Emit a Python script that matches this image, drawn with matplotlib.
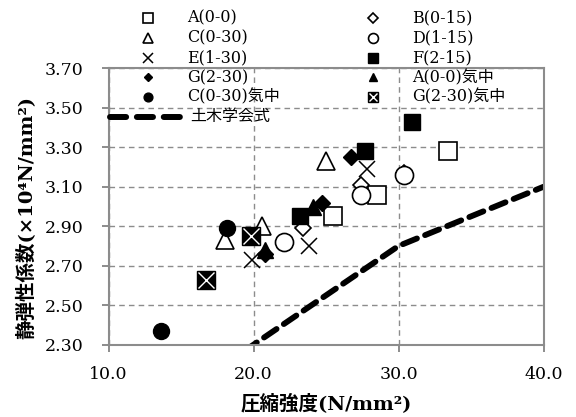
import numpy as np
import matplotlib
matplotlib.use('Agg')
import matplotlib.pyplot as plt
from matplotlib.ticker import FormatStrFormatter

# fonts: serif for latin, CJK fallback for japanese
jp_font = ['DejaVu Serif', 'Noto Sans CJK JP']
plt.rcParams['font.family'] = jp_font

# data (x: 圧縮強度, y: 静弾性係数)
A_x = [25.5, 28.5, 33.4]
A_y = [2.95, 3.06, 3.28]
B_x = [23.4, 27.4, 30.4]
B_y = [2.89, 3.11, 3.17]
C_x = [18.0, 20.6, 25.0]
C_y = [2.83, 2.90, 3.23]
D_x = [22.1, 27.4, 30.4]
D_y = [2.82, 3.06, 3.16]
E_x = [19.9, 23.8, 27.8]
E_y = [2.73, 2.80, 3.19]
F_x = [23.2, 27.7, 30.9]
F_y = [2.95, 3.28, 3.43]
G_x = [20.8, 24.7, 26.7]
G_y = [2.76, 3.02, 3.25]
A_air_x = [20.8, 24.1]
A_air_y = [2.78, 3.00]
C_air_x = [13.6, 18.2]
C_air_y = [2.37, 2.89]
G_air_x = [16.7, 19.8]
G_air_y = [2.63, 2.85]
# 土木学会式 (table values)
jsce_x = [18, 24, 30, 40]
jsce_y = [2.2, 2.5, 2.8, 3.1]

labels = ['A(0-0)', 'B(0-15)', 'C(0-30)', 'D(1-15)', 'E(1-30)', 'F(2-15)',
          'G(2-30)', 'A(0-0)気中', 'C(0-30)気中', 'G(2-30)気中']
xs = [A_x, B_x, C_x, D_x, E_x, F_x, G_x, A_air_x, C_air_x, G_air_x]
ys = [A_y, B_y, C_y, D_y, E_y, F_y, G_y, A_air_y, C_air_y, G_air_y]

# marker styles, list of layers per series
styles = [
    [dict(marker='s', mfc='white', mec='black', ms=13, mew=1.2)],
    [dict(marker='D', mfc='white', mec='black', ms=8.5, mew=1.2)],
    [dict(marker='^', mfc='white', mec='black', ms=13, mew=1.2)],
    [dict(marker='o', mfc='white', mec='black', ms=13, mew=1.2)],
    [dict(marker='x', mfc='black', mec='black', ms=12, mew=1.1)],
    [dict(marker='s', mfc='black', mec='black', ms=12, mew=1.0)],
    [dict(marker='D', mfc='black', mec='black', ms=8, mew=1.0)],
    [dict(marker='^', mfc='black', mec='black', ms=11.5, mew=1.0)],
    [dict(marker='o', mfc='black', mec='black', ms=11.5, mew=1.0)],
    [dict(marker='s', mfc='black', mec='black', ms=12.5, mew=1.0),
     dict(marker='x', mfc='white', mec='white', ms=11, mew=1.0)],
]

grey = '#8c8c8c'
W, H = 576, 417
fig = plt.figure(figsize=(W / 100, H / 100), dpi=100)
ax = fig.add_axes([108.5 / W, 1 - 344.7 / H, 435 / W, 276.4 / H])

ax.plot(jsce_x, jsce_y, color='black', lw=4.2, dashes=(2.6, 1.5),
        dash_capstyle='round', zorder=2)

for x, y, st in zip(xs, ys, styles):
    for s in st:
        ax.plot(x, y, linestyle='none', zorder=3, **s)

ax.set_xlim(10, 40)
ax.set_ylim(2.3, 3.7)
ax.set_xticks([10, 20, 30, 40])
ax.set_yticks(np.arange(2.3, 3.71, 0.2))
ax.xaxis.set_major_formatter(FormatStrFormatter('%.1f'))
ax.yaxis.set_major_formatter(FormatStrFormatter('%.2f'))
ax.grid(True, color=grey, linestyle=(0, (4, 3)), lw=1.0)
ax.set_axisbelow(True)
for sp in ax.spines.values():
    sp.set_color(grey)
    sp.set_linewidth(1.5)
ax.tick_params(direction='out', length=5, width=1.4, color=grey,
               labelsize=12.5)
ax.tick_params(axis='y', pad=13)
ax.tick_params(axis='x', pad=10)

ax.set_xlabel('圧縮強度(N/mm²)', fontsize=14, fontweight='bold')
ax.xaxis.set_label_coords(0.5, -0.18)
ax.set_ylabel('静弾性係数(×10⁴N/mm²)', fontsize=14, fontweight='bold')
ax.yaxis.set_label_coords(-0.165, 0.46)

# legend drawn by hand on a full-figure overlay (pixel coords)
leg = fig.add_axes([0, 0, 1, 1], zorder=5)
leg.set_xlim(0, W)
leg.set_ylim(H, 0)
leg.axis('off')
row0, drow = 18.3, 19.7
mark_x = [147.5, 373]
text_x = [187.5, 412]
for i, lab in enumerate(labels):
    r, c = i // 2, i % 2
    yy = row0 + drow * r
    for s in styles[i]:
        s2 = dict(s)
        s2['ms'] = s['ms'] * 0.55
        leg.plot([mark_x[c]], [yy], linestyle='none', clip_on=False, **s2)
    leg.text(text_x[c], yy, lab, fontsize=11.5, va='center', ha='left')
yy = row0 + drow * 5
leg.plot([110, 180], [yy, yy], color='black', lw=4.3, dashes=(2.7, 1.8),
         dash_capstyle='round')
leg.text(190, yy, '土木学会式', fontsize=11.5, va='center', ha='left')

plt.savefig('out.png', dpi=100)
